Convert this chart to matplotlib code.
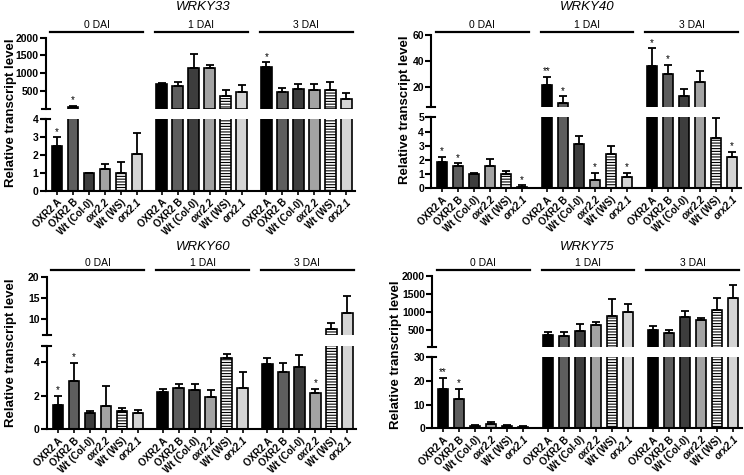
import numpy as np
import matplotlib.pyplot as plt
from matplotlib import transforms
from matplotlib.lines import Line2D

plt.rcParams['font.family'] = ['Liberation Sans', 'DejaVu Sans']
plt.rcParams['hatch.linewidth'] = 0.8

genotypes = ['OXR2 A', 'OXR2 B', 'Wt (Col-0)', 'oxr2.2', 'Wt (WS)', 'orx2.1']
italic_labels = ['oxr2.2', 'orx2.1']
days = ['0 DAI', '1 DAI', '3 DAI']
bar_colors = ['#000000', '#5e5e5e', '#3d3d3d', '#a3a3a3', '#ffffff', '#d4d4d4']
bar_hatches = ['', '', '', '', '------', '']

# 18 values per gene: 0 DAI (6 genotypes), 1 DAI, 3 DAI
wrky33_mean = [2.52, 50, 0.98, 1.21, 0.99, 2.06,
               705, 652, 1155, 1155, 345, 456,
               1173, 466, 549, 531, 512, 279]
wrky33_err = [0.47, 35, 0.02, 0.29, 0.64, 1.19,
              21, 102, 381, 74, 167, 224,
              131, 111, 159, 177, 233, 159]
wrky33_stars = ['*', '*', '', '', '', '', '', '', '', '', '', '',
                '*', '', '', '', '', '']

wrky40_mean = [1.83, 1.57, 0.99, 1.60, 0.99, 0.09,
               21.8, 7.5, 3.15, 0.59, 2.44, 0.82,
               36.1, 30.2, 13.4, 23.8, 3.52, 2.23]
wrky40_err = [0.40, 0.19, 0.09, 0.44, 0.23, 0.11,
              5.8, 5.4, 0.54, 0.47, 0.56, 0.24,
              13.7, 6.9, 5.3, 8.7, 1.41, 0.35]
wrky40_stars = ['*', '*', '', '', '', '*', '**', '*', '', '*', '', '*',
                '*', '*', '', '', '', '*']

wrky60_mean = [1.46, 2.9, 1.0, 1.4, 1.08, 1.0,
               2.22, 2.44, 2.32, 1.9, 4.28, 2.48,
               3.88, 3.44, 3.74, 2.14, 7.46, 11.43]
wrky60_err = [0.54, 1.06, 0.12, 1.2, 0.22, 0.14,
              0.2, 0.24, 0.36, 0.46, 0.22, 0.96,
              0.4, 0.54, 0.7, 0.26, 1.59, 3.97]
wrky60_stars = ['*', '*', '', '', '', '', '', '', '', '', '', '',
                '', '', '', '*', '', '']

wrky75_mean = [16.6, 12.3, 1.0, 1.7, 1.0, 0.7,
               362, 334, 472, 638, 896, 988,
               500, 417, 859, 776, 1062, 1393]
wrky75_err = [4.8, 4.3, 0.4, 1.0, 0.4, 0.3,
              92, 102, 185, 92, 460, 230,
              120, 83, 157, 64, 313, 350]
wrky75_stars = ['**', '*', '', '', '', '', '', '', '', '', '', '',
                '', '', '', '', '', '']

W, H = 744, 475
GROUP = 6.55
pos = np.array([g * GROUP + i for g in range(3) for i in range(6)])
AX_W = 309.6

fig = plt.figure(figsize=(W / 100, H / 100), dpi=100)


def px_axes(left, top, bottom):
    return fig.add_axes([left / W, 1 - bottom / H, AX_W / W, (bottom - top) / H])


def draw_bars(ax, mean, err, keep_bar, keep_err):
    mean = np.asarray(mean)
    err = np.asarray(err)
    for k in range(18):
        if not keep_bar[k]:
            continue
        i = k % 6
        ax.bar(pos[k], mean[k], width=0.65, color=bar_colors[i], edgecolor='k',
               linewidth=1.2, hatch=bar_hatches[i], zorder=2)
    sel = np.asarray(keep_err)
    ax.errorbar(pos[sel], mean[sel], yerr=[np.zeros(sel.sum()), err[sel]],
                fmt='none', ecolor='k', elinewidth=1.3, capsize=3,
                capthick=1.3, zorder=3)


def panel(left, up_tb, low_tb, mean, err, stars, up_lim, up_ticks,
          low_lim, low_ticks, low_labels, title, title_xy, ylab_xy, dai_y):
    ax_up = px_axes(left, *up_tb)
    ax_lo = px_axes(left, *low_tb)
    top = [m + e for m, e in zip(mean, err)]
    draw_bars(ax_up, mean, err, [m > up_lim[0] for m in mean],
              [t > up_lim[0] for t in top])
    draw_bars(ax_lo, mean, err, [True] * 18, [m < low_lim[1] for m in mean])
    for ax in (ax_up, ax_lo):
        ax.set_xlim(-0.7, pos[-1] + 0.55)
        for s in ('top', 'right'):
            ax.spines[s].set_visible(False)
        ax.spines['left'].set_linewidth(1.5)
        ax.tick_params(axis='y', direction='out', length=4, width=1.5,
                       labelsize=7.5, pad=1)
    ax_up.spines['bottom'].set_visible(False)
    ax_up.set_xticks([])
    ax_up.set_ylim(*up_lim)
    ax_up.set_yticks(up_ticks)
    ax_lo.set_ylim(*low_lim)
    ax_lo.set_yticks(low_ticks)
    ax_lo.set_yticklabels(low_labels)
    ax_lo.spines['bottom'].set_linewidth(1.5)
    ax_lo.set_xticks(pos)
    ax_lo.set_xticklabels(genotypes * 3, rotation=45, ha='right',
                          rotation_mode='anchor', fontsize=7.0, fontweight='bold')
    ax_lo.tick_params(axis='x', direction='out', length=3, width=1.2, pad=1.5)
    for lab in ax_lo.get_xticklabels():
        if lab.get_text() in italic_labels:
            lab.set_fontstyle('italic')
    for ax in (ax_up, ax_lo):
        for lab in ax.get_yticklabels():
            lab.set_fontweight('bold')

    # break marks
    d = 4 / AX_W
    ax_up.add_line(Line2D([-d, d], [0, 0], transform=ax_up.transAxes,
                          color='k', lw=1.5, clip_on=False))
    ax_lo.add_line(Line2D([-d, d], [1, 1], transform=ax_lo.transAxes,
                          color='k', lw=1.5, clip_on=False))

    # significance stars
    for k in range(18):
        if stars[k]:
            ax = ax_up if top[k] > low_lim[1] else ax_lo
            ax.annotate(stars[k], (pos[k], top[k]), xytext=(0, 0.5),
                        textcoords='offset points', ha='center', va='bottom',
                        fontsize=7)

    # day group lines
    tr = transforms.blended_transform_factory(ax_up.transData, fig.transFigure)
    for g, day in enumerate(days):
        x0 = g * GROUP
        ax_up.add_line(Line2D([x0 - 0.4, x0 + 5.4], [1 - dai_y / H] * 2,
                              transform=tr, color='k', lw=1.6, clip_on=False))
        ax_up.text(x0 + 2.5, 1 - (dai_y - 7.5) / H, day, transform=tr,
                   ha='center', va='center', fontsize=7.5)

    fig.text(title_xy[0] / W, 1 - title_xy[1] / H, title, ha='center',
             va='center', fontsize=9.5, fontstyle='italic')
    fig.text(ylab_xy[0] / W, 1 - ylab_xy[1] / H, 'Relative transcript level',
             rotation=90, ha='center', va='center', fontsize=9.5,
             fontweight='bold')


panel(45.5, (37.7, 108.5), (119.3, 190.7), wrky33_mean, wrky33_err, wrky33_stars,
      (4, 2000), [500, 1000, 1500, 2000], (0, 4), [0, 1, 2, 3, 4],
      ['0', '1', '2', '3', '4'], 'WRKY33', (203, 7), (11, 113), 32.3)
panel(431, (35, 106.7), (117.3, 188.3), wrky40_mean, wrky40_err, wrky40_stars,
      (5, 60), [20, 40, 60], (0, 5), [0, 1, 2, 3, 4, 5],
      ['0', '1', '2', '3', '4', '5'], 'WRKY40', (587, 7), (405, 110), 32.3)
panel(46.5, (276.7, 334.5), (345.5, 429.3), wrky60_mean, wrky60_err, wrky60_stars,
      (6.2, 20), [10, 15, 20], (0, 5), [0, 2, 4, 5],
      ['0', '2', '4', ''], 'WRKY60', (203, 247), (11, 353), 270)
panel(432, (275.5, 347), (357.3, 428.3), wrky75_mean, wrky75_err, wrky75_stars,
      (30, 2000), [500, 1000, 1500, 2000], (0, 30), [0, 10, 20, 30],
      ['0', '10', '20', '30'], 'WRKY75', (587, 247), (396, 355), 270)

fig.savefig('out.png', dpi=100)
